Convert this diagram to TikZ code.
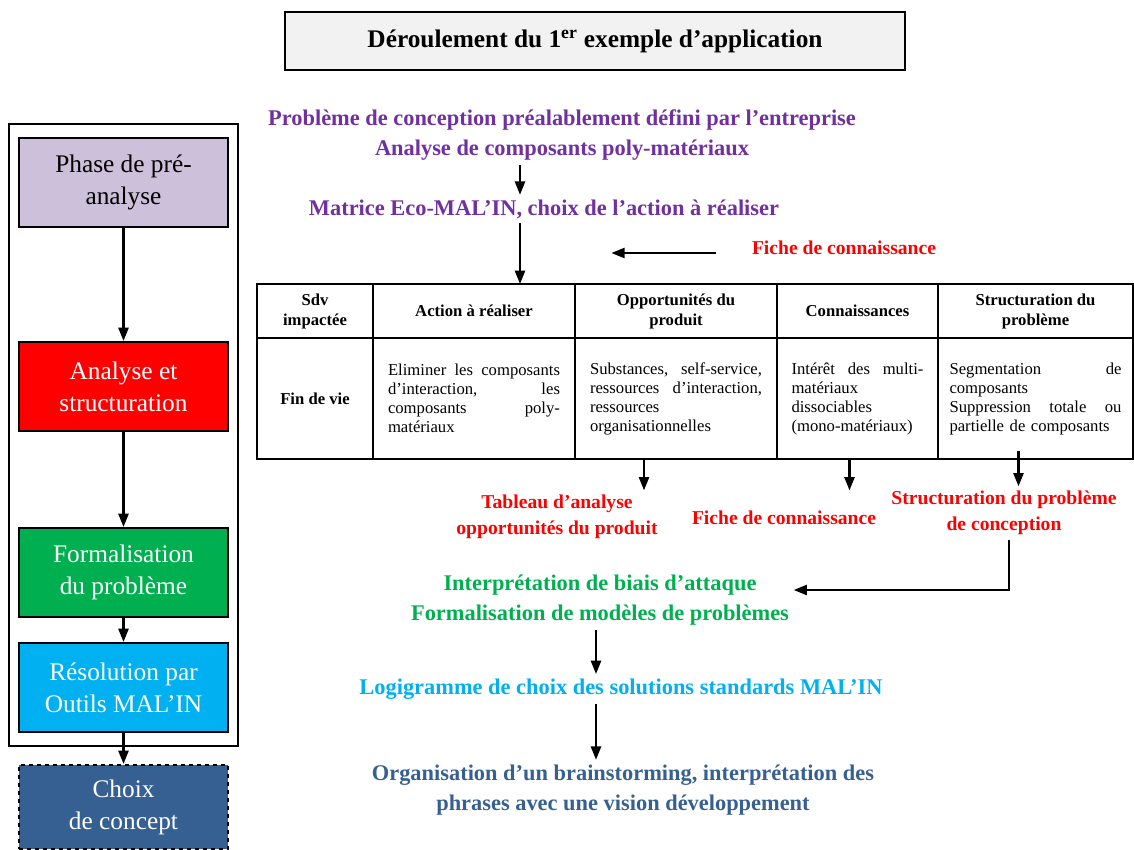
\documentclass[tikz,border=0pt]{standalone}
\usepackage{fontspec}
\setmainfont{Liberation Serif}
\usepackage{xcolor}
\usepackage{tikz}
\usetikzlibrary{positioning, arrows.meta, fit}

\definecolor{prepurple}{HTML}{CCC0DA}
\definecolor{anared}{HTML}{FF0000}
\definecolor{formgreen}{HTML}{00B050}
\definecolor{resocyan}{HTML}{00B0F0}
\definecolor{conceptblue}{HTML}{376092}
\definecolor{flowpurple}{HTML}{7030A0}
\definecolor{titlegray}{HTML}{F2F2F2}

\newdimen\px \px=0.75pt
\newcommand{\fullline}[1]{\makebox[\hsize][s]{\spaceskip=0pt\xspaceskip=0pt\relax #1}}

\begin{document}
\begin{tikzpicture}[
    x=0.75pt, y=-0.75pt,
    node distance=0pt,
    phase/.style={rectangle, draw, line width=1.5pt, minimum width=209\px, minimum height=89\px, align=center, font=\fontsize{19}{24}\selectfont, text=white, fill=#1},
    arrow/.style={-{Triangle[length=10pt, width=7.5pt]}, line width=1.8pt},
    flow/.style={align=center, font=\fontsize{16.8}{23}\selectfont\bfseries, text=#1},
    outcome/.style={align=center, font=\fontsize{14.7}{19.5}\selectfont\bfseries, text=anared},
    head/.style={rectangle, draw, line width=1.6pt, outer sep=0pt, inner sep=0pt, minimum height=54\px, align=center, font=\fontsize{12.5}{15}\selectfont\bfseries},
    cell/.style={rectangle, draw, line width=1.6pt, outer sep=0pt, inner sep=0pt, minimum height=121\px, align=left, font=\fontsize{12.5}{14.25}\selectfont},
]
\useasboundingbox (0,0) rectangle (1134,849);

% Title
\node[draw, line width=1.5pt, fill=titlegray, minimum width=620\px, minimum height=58\px, font=\fontsize{19}{23}\selectfont\bfseries] (title) at (595,41) {Déroulement du 1\textsuperscript{er} exemple d’application};

% Phases (left column)
\node[phase=prepurple, text=black] (pre) at (123.5,182.5) {Phase de pré-\\analyse};
\node[phase=anared] (ana) at (123.5,386.5) {Analyse et\\structuration};
\node[phase=formgreen] (form) at (123.5,572.5) {Formalisation\\du problème};
\node[phase=resocyan] (reso) at (123.5,687.5) {Résolution par\\Outils MAL’IN};
\node[phase=conceptblue, dashed, minimum height=84\px] (choice) at (123.5,807) {Choix\\de concept};
\node[draw, line width=1.3pt, fit=(pre)(reso), inner xsep=9\px, inner ysep=13\px] (frame) {};

\draw[arrow] (pre) -- (ana);
\draw[arrow] (ana) -- (form);
\draw[arrow] (form) -- (reso);
\draw[arrow] (reso) -- (choice);

% Flow of the example
\node[flow=flowpurple] (prob) at (562,135) {Problème de conception préalablement défini par l’entreprise\\Analyse de composants poly-matériaux};
\node[flow=flowpurple] (eco) at (544,209) {Matrice Eco-MAL’IN, choix de l’action à réaliser};
\node[outcome] (know) at (844,248) {Fiche de connaissance};

% Eco-MAL'IN table
\node[head, minimum width=116\px] (h1) at (315,311) {Sdv\\impactée};
\node[head, minimum width=202\px, right=of h1] (h2) {Action à réaliser};
\node[head, minimum width=202\px, right=of h2] (h3) {Opportunités du\\produit};
\node[head, minimum width=161\px, right=of h3] (h4) {Connaissances};
\node[head, minimum width=195\px, right=of h4] (h5) {Structuration du\\problème};

\node[cell, minimum width=116\px, below=of h1, font=\fontsize{12.5}{14.25}\selectfont\bfseries] (b1) {Fin de vie};
\node[cell, minimum width=202\px, text width=172\px, below=of h2] (b2) {\fullline{Eliminer les composants}\\\fullline{d’interaction, les}\\\fullline{composants poly-}\\matériaux};
\node[cell, minimum width=202\px, text width=172\px, below=of h3] (b3) {\fullline{Substances, self-service,}\\\fullline{ressources d’interaction,}\\ressources\\organisationnelles};
\node[cell, minimum width=161\px, text width=132\px, below=of h4] (b4) {\fullline{Intérêt des multi-}\\matériaux\\dissociables\\(mono-matériaux)};
\node[cell, minimum width=195\px, text width=172\px, below=of h5] (b5) {\fullline{Segmentation de}\\composants\\\fullline{Suppression totale ou}\\partielle de composants};

% Outcomes of the table
\node[outcome] (tab) at (557,517) {Tableau d’analyse\\opportunités du produit};
\node[outcome] (know2) at (784,518) {Fiche de connaissance};
\node[outcome] (struct) at (1004,513) {Structuration du problème\\de conception};

\node[flow=formgreen] (interp) at (600,600) {Interprétation de biais d’attaque\\Formalisation de modèles de problèmes};
\node[flow=resocyan] (logi) at (621,689) {Logigramme de choix des solutions standards MAL’IN};
\node[flow=conceptblue] (brain) at (623,790) {Organisation d’un brainstorming, interprétation des\\phrases avec une vision développement};

% Arrows
\draw[arrow] ([xshift=-42\px]prob.south) -- ([xshift=-24\px]eco.north);
\draw[arrow] ([xshift=-24\px]eco.south) -- ([xshift=-24\px]eco.south |- h2.north);
\draw[arrow] ([xshift=-31\px, yshift=-3.75pt]know.west) -- ++(-105,0);
\draw[arrow] ([xshift=-32\px]b3.south) -- ([xshift=-32\px]b3.south |- tab.north);
\draw[arrow, shorten >=16\px] ([xshift=-8\px]b4.south) -- ([xshift=-8\px]b4.south |- know2.north);
\draw[arrow] ([xshift=-17\px, yshift=6pt]b5.south) -- ([xshift=-17\px]b5.south |- struct.north);
\draw[arrow] ([xshift=5\px]struct.south) |- ([yshift=7.5pt]interp.east);
\draw[arrow] ([xshift=-4\px]interp.south) -- ([xshift=-25\px]logi.north);
\draw[arrow] ([xshift=-25\px]logi.south) -- ([xshift=-27\px]brain.north);

\end{tikzpicture}
\end{document}
